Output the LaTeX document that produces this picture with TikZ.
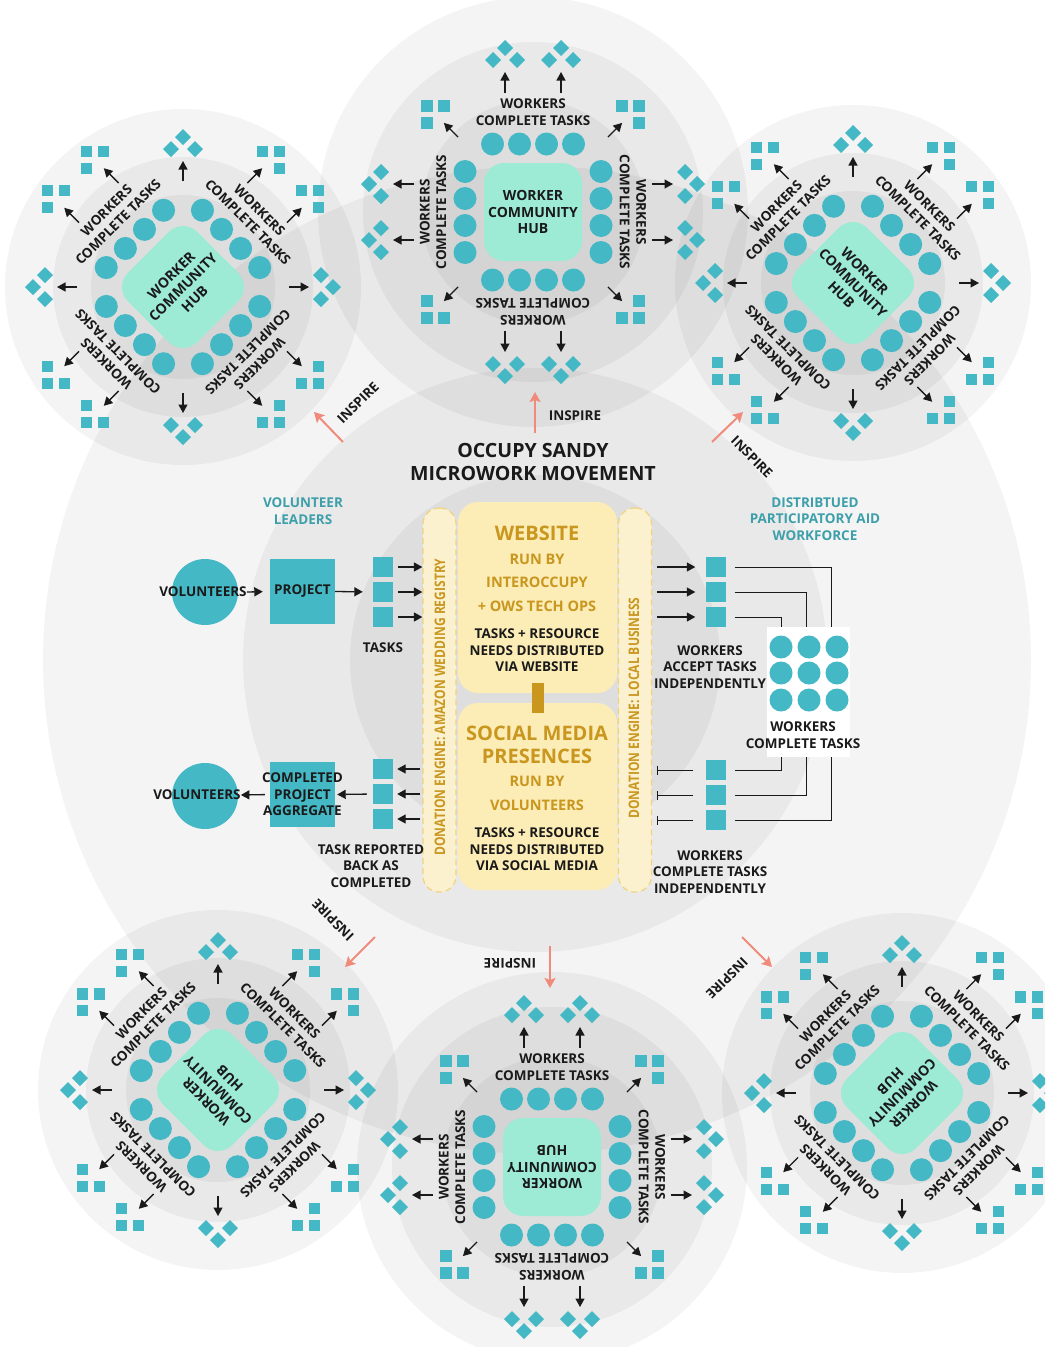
\documentclass[tikz,border=0pt]{standalone}
\usepackage{fontspec}
\setmainfont{Open Sans}
\newfontfamily\condfont{Open Sans}[FakeStretch=0.83]
\usepackage{tikz}
\usetikzlibrary{arrows.meta,calc,positioning}
\definecolor{teal}{HTML}{45B8C6}
\definecolor{mint}{HTML}{9DEBD5}
\definecolor{cream}{HTML}{FCECB6}
\definecolor{barfill}{HTML}{FBF1CF}
\definecolor{dashc}{HTML}{F0D37E}
\definecolor{gold}{HTML}{C9961E}
\definecolor{leadc}{HTML}{3D9FAA}
\definecolor{salmon}{HTML}{F08B7B}
\definecolor{ink}{HTML}{1A1A1A}
\tikzset{haze/.style={fill=black,fill opacity=.045},
 arr/.style={-{Triangle[length=8.5pt,width=9pt]},draw=ink,line width=1.3pt},
 inspire/.style={-{Stealth[length=10pt,width=11pt,inset=2pt]},draw=salmon,line width=2pt},
 wire/.style={draw=ink,line width=.9pt},
 lbl/.style={font=\fontsize{13.5}{16.5}\selectfont\bfseries,text=ink,align=center,inner sep=0pt},
 leadtxt/.style={lbl,text=leadc},
 ttl/.style={lbl,font=\fontsize{19.6}{23}\selectfont\bfseries},
 goldbig/.style={lbl,text=gold,font=\fontsize{20}{23}\selectfont\bfseries},
 goldmid/.style={lbl,text=gold,font=\fontsize{14.5}{23.5}\selectfont\bfseries},
 hubtxt/.style={lbl,font=\fontsize{14}{16.5}\selectfont\bfseries},
 bartxt/.style={lbl,text=gold,font=\condfont\bfseries\fontsize{14.5}{16}\selectfont},
 volc/.style={circle,fill=teal,minimum size=66,inner sep=0pt},
 sqbox/.style={lbl,fill=teal,minimum size=65},
 tsq/.style={fill=teal,minimum size=20,inner sep=0pt},
 dbar/.style={draw=dashc,dash pattern=on 6pt off 4pt,line width=1.2pt,fill=barfill,rounded corners=16,minimum width=33,minimum height=384,inner sep=0pt},
 panel/.style={fill=cream,rounded corners=20,minimum width=159,inner sep=0pt},
 link/.style={draw=gold,line width=12pt}}
% three task tiles around the point an arrow runs into
\newcommand\tasktrio[2]{%
 \foreach \dx/\dy in {0/-12,-12/0,12/0}
  \fill[teal] (#1+\dx,#2+\dy) +(0,-8) -- +(8,0) -- +(0,8) -- +(-8,0) -- cycle;}

\begin{document}
\begin{tikzpicture}[x=1pt,y=-1pt]
\useasboundingbox (0,0) rectangle (1045,1347);
\clip (0,0) rectangle (1045,1347);
\fill[white] (0,0) rectangle (1045,1347);
% grey discs
\fill[haze] (537,660) circle (494); \fill[haze] (535,660) circle (292); \fill[haze] (535,660) circle (185);
\foreach \px/\py/\ra/\rb/\rc in {533/212/215/170/112,183/287/178/130/92,853/283/178/130/92,218/1090/180/132/92,552/1167/195/160/110,902/1093/180/132/92}
 {\fill[haze] (\px,\py) circle (\ra); \fill[haze] (\px,\py) circle (\rb); \fill[haze] (\px,\py) circle (\rc);}
% worker community hubs
\foreach \px/\py/\pr/\hr [count=\k] in {533/212/0/0,183/287/45/45,853/283/45/-45,218/1090/45/135,552/1167/0/180,902/1093/45/-135}{
 \begin{scope}[shift={(\px,\py)},rotate=\pr]
  \fill[mint,rounded corners=20] (-49,-49) rectangle (49,49);
  \foreach \a in {0,90,180,270}{
   \begin{scope}[rotate=\a]
    \foreach \s in {-40.5,-13.5,13.5,40.5} \fill[teal] (\s,-68) circle (11.5);
    \node[lbl,transform shape] (wk\k-\a) at (0,-100) {WORKERS\\COMPLETE TASKS};
    \foreach \s in {-28,28}{\draw[arr] (\s,-119) -- (\s,-140); \tasktrio{\s}{-152}}
    \begin{scope}[rotate=-45]
     \draw[arr] (0,-106) -- (0,-126); \tasktrio{0}{-138}
    \end{scope}
   \end{scope}}
 \end{scope}
 \node[hubtxt,rotate=\hr] (hub\k) at (\px,\py) {WORKER\\COMMUNITY\\HUB};
}
% inspire arrows
\foreach \k/\ax/\ay/\bx/\by/\lx/\ly/\lr in {1/535/433/535/392/575/416/0,2/343/442/314/412/358/403/45,3/712/442/743/412/752/457/-45,4/375/937/345/967/333/920/135,5/550/946/550/988/510/963/180,6/742/937/772/967/727/978/225}{
 \coordinate (ins-\k-a) at (\ax,\ay); \coordinate (ins-\k-b) at (\bx,\by);
 \draw[inspire] (ins-\k-a) -- (ins-\k-b);
 \node[lbl,rotate=\lr] (insl\k) at (\lx,\ly) {INSPIRE};
}
\node[ttl] (title) at (533,462) {OCCUPY SANDY\\MICROWORK MOVEMENT};
\node[leadtxt] (vlead) at (303,511) {VOLUNTEER\\LEADERS};
\node[leadtxt] (dlead) at (815,519) {DISTRIBTUED\\PARTICIPATORY AID\\WORKFORCE};
% donation engines and channels
\node[dbar] (amazon) at (439.5,700) {};
\node[dbar] (local) at (635,700) {};
\node[bartxt,rotate=90] (amazont) at (440,707) {DONATION ENGINE: AMAZON WEDDING REGISTRY};
\node[bartxt,rotate=90] (localt) at (634,708) {DONATION ENGINE: LOCAL BUSINESS};
\node[panel,minimum height=191] (web) at (537.5,597.5) {};
\node[panel,minimum height=187] (soc) at (537.5,796.5) {};
\draw[link] ([yshift=10]web.south) -- ([yshift=-10]soc.north);
\node[goldbig] (webt) at (537,533) {WEBSITE};
\node[goldmid] (webrun) at (537,582.5) {RUN BY\\INTEROCCUPY\\+ OWS TECH OPS};
\node[lbl] (webtask) at (537,650.5) {TASKS + RESOURCE\\NEEDS DISTRIBUTED\\VIA WEBSITE};
\node[goldbig] (soct) at (537,744.5) {SOCIAL MEDIA\\PRESENCES};
\node[goldmid] (socrun) at (537,793.5) {RUN BY\\VOLUNTEERS};
\node[lbl] (soctask) at (537,849.5) {TASKS + RESOURCE\\NEEDS DISTRIBUTED\\VIA SOCIAL MEDIA};
% volunteer side
\node[volc] (vol1) at (205,592) {};
\node[lbl] (vol1t) at (203,592) {VOLUNTEERS};
\node[sqbox] (proj) at (302.5,591.5) {PROJECT};
\node[volc] (vol2) at (205,796) {};
\node[lbl] (vol2t) at (197,795) {VOLUNTEERS};
\node[sqbox] (agg) at (302.5,794.5) {};
\node[lbl] (aggt) at (agg) {COMPLETED\\PROJECT\\AGGREGATE};
\foreach \i/\y in {1/567,2/592,3/617}{\node[tsq] (tin\i) at (383,\y) {}; \node[tsq] (tout\i) at (715.5,\y) {};}
\foreach \i/\y in {1/769,2/794,3/819}{\node[tsq] (tret\i) at (383,\y) {};}
\foreach \i/\y in {1/770,2/795,3/820}{\node[tsq] (tback\i) at (715.5,\y) {};}
\node[lbl] (tasks) at (383,648) {TASKS};
\node[lbl] (taskrep) at (371,866) {TASK REPORTED\\BACK AS\\COMPLETED};
\draw[arr,shorten >=7pt] (vol1t.east) -- (proj.west);
\draw[arr,shorten >=10pt] (proj.east) -- (tin2.west);
\foreach \i in {1,2,3}{
 \draw[arr,shorten <=5pt] (tin\i.east) -- (tin\i.east -| amazon.west);
 \draw[arr,shorten <=2pt,shorten >=4pt] (tret\i.east -| amazon.west) -- (tret\i.east);}
\draw[arr,shorten <=6pt,shorten >=2pt] (tret2.west) -- (agg.east);
\draw[arr,shorten <=5pt] (agg.west) -- (vol2t.east);
% workforce side
\foreach \i in {1,2,3}{
 \draw[arr,shorten <=5pt,shorten >=10pt] (tout\i.west -| local.east) -- (tout\i.west);
 \draw[wire,-{Bar[width=9pt]},shorten >=5pt] ([xshift=-12]tback\i.west) -- (tback\i.west -| local.east);}
\draw[wire] ([xshift=9]tout1.east) -- ++(97,0) |- ([xshift=9]tback3.east);
\draw[wire] ([xshift=9]tout2.east) -- ++(72,0) |- ([xshift=9]tback2.east);
\draw[wire] ([xshift=9]tout3.east) -- ++(47,0) |- ([xshift=9]tback1.east);
\node[fill=white,inner sep=0pt,minimum width=83,minimum height=130] (crowd) at (808.5,692) {};
\foreach \cx in {781,809,837} \foreach \cy in {647,673,700} \fill[teal] (\cx,\cy) circle (11.5);
\node[lbl] (crowdl) at (803,735) {WORKERS\\COMPLETE TASKS};
\node[lbl] (accept) at (710,667) {WORKERS\\ACCEPT TASKS\\INDEPENDENTLY};
\node[lbl] (compind) at (710,872) {WORKERS\\COMPLETE TASKS\\INDEPENDENTLY};
\end{tikzpicture}
\end{document}
